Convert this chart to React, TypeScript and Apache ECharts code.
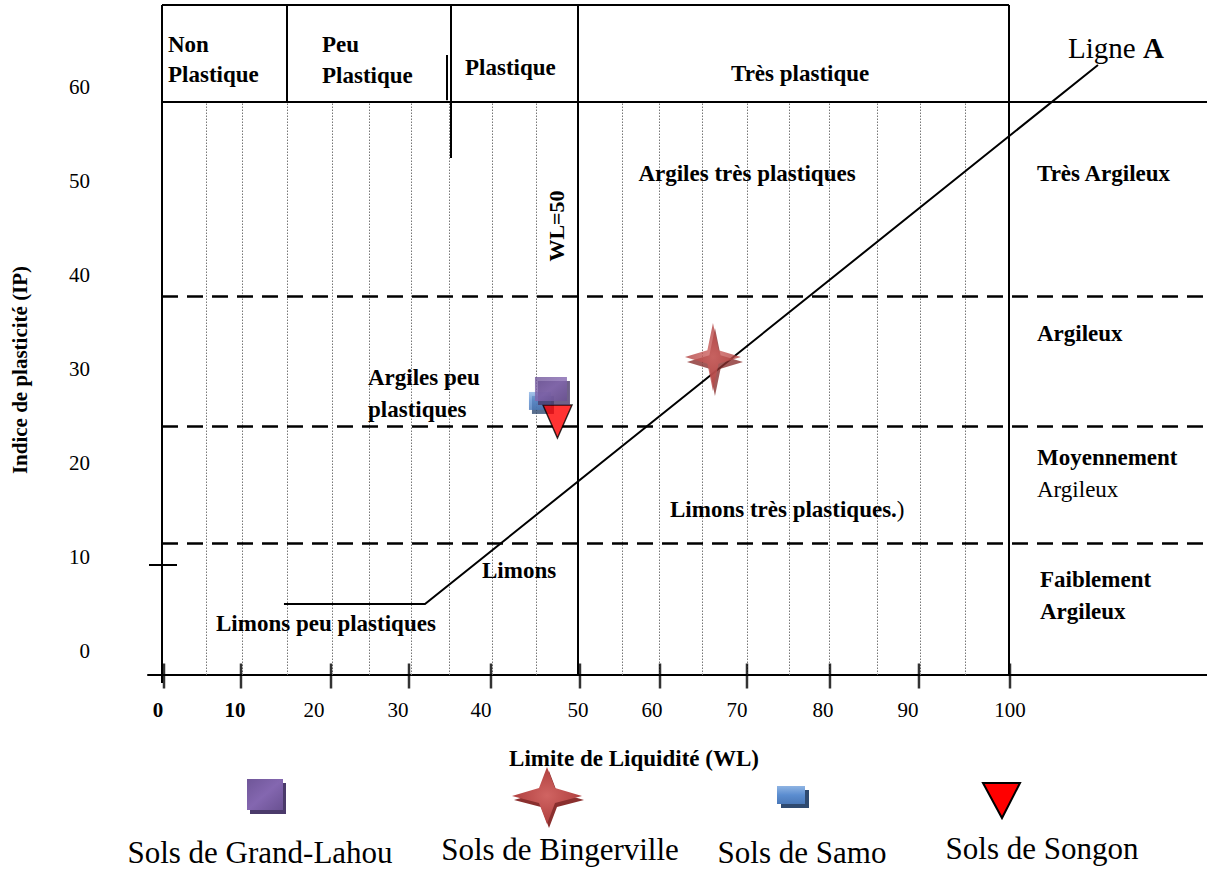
import React, { useEffect, useRef } from 'react';
import * as echarts from 'echarts';

// ---------- data (WL = liquid limit, IP = plasticity index) ----------
const X_MIN = -1.891;
const X_MAX = 123.286;
const Y_MIN = -2.553;
const Y_MAX = 68.72;

const xTickValues = [0, 9.1, 19.74, 28.96, 38.65, 49.17, 58.63, 68.91, 78.72, 89.24, 100];
const xLabelValues = [-0.71, 8.39, 17.73, 27.66, 37.47, 48.94, 57.68, 67.73, 77.9, 87.94, 100];
const xTickLabels = ['0', '10', '20', '30', '40', '50', '60', '70', '80', '90', '100'];
const yTickValues = [0, 10, 20, 30, 40, 50, 60];
const yTickLabels = ['0', '10', '20', '30', '40', '50', '60'];

const wlGuides = [4.96, 9.22, 14.54, 19.86, 24.23, 29.2, 33.69, 38.77, 43.97, 54.14, 58.51, 63.59, 68.91, 73.88, 78.61, 84.28, 89.36, 94.68];
const plotLeftWL = -0.236;
const headerTopIP = 68.72;
const headerBottomIP = 58.4;
const wl50 = 48.94;
const wl100 = 99.88;
const ipClassLimits = [37.77, 23.94, 11.49];
const ligneA = [[14.18, 5.0], [30.85, 5.0], [110.4, 62.34]];
const headerDividers = [[14.54, 58.4, 68.72], [33.92, 52.45, 68.72], [33.45, 58.6, 63.4]];

const grandLahou = [[45.74, 27.87]];
const samo = [[44.44, 26.6]];
const songon = [[46.51, 24.41]];
const bingerville = [[64.89, 31.28]];

const legendNames = ['Sols de Grand-Lahou', 'Sols de Bingerville', 'Sols de Samo', 'Sols de Songon'];

// ---------------------------------------------------------------------
const SERIF = '"Liberation Serif", "Times New Roman", serif';
const STAR = 'path://M50,0 L60,40 L100,50 L60,60 L50,100 L40,60 L0,50 L40,40 Z';

function seg(a: number[], b: number[]) {
  return { coords: [a, b] };
}

function txt(x: number, y: number, text: string, opts: any = {}) {
  return {
    type: 'text',
    x,
    y,
    z: 100,
    rotation: opts.rotation || 0,
    style: {
      text,
      fill: '#000',
      fontFamily: SERIF,
      fontSize: opts.size || 23,
      fontWeight: opts.weight || 'bold',
      align: opts.align || 'left',
      verticalAlign: 'middle',
      rich: opts.rich,
    },
  };
}

export default function App() {
  const ref = useRef<HTMLDivElement>(null);

  useEffect(() => {
    if (!ref.current) return;
    const chart = echarts.init(ref.current, undefined, { renderer: 'svg' });

    const dotted = wlGuides.map((w) => seg([w, Y_MIN], [w, headerBottomIP]));
    const solid = [
      seg([plotLeftWL, headerTopIP], [wl100, headerTopIP]),
      seg([plotLeftWL, headerBottomIP], [X_MAX, headerBottomIP]),
      seg([wl50, Y_MIN], [wl50, headerTopIP]),
      seg([wl100, Y_MIN], [wl100, headerTopIP]),
      seg([plotLeftWL, -3.4], [plotLeftWL, headerTopIP]),
      seg([-1.77, 9.15], [1.54, 9.15]),
      ...headerDividers.map((d) => seg([d[0], d[1]], [d[0], d[2]])),
    ];
    const dashed = ipClassLimits.map((ip) => seg([plotLeftWL, ip], [X_MAX, ip]));

    const labelFmt = (val: number) => {
      let idx = 0;
      let best = Infinity;
      xLabelValues.forEach((v, i) => {
        const d = Math.abs(v - val);
        if (d < best) { best = d; idx = i; }
      });
      return idx < 2 ? `{b|${xTickLabels[idx]}}` : xTickLabels[idx];
    };
    const yFmt = (val: number) => {
      const i = yTickValues.indexOf(Math.round(val));
      return i >= 0 ? yTickLabels[i] : '';
    };

    const purpleFill = new echarts.graphic.LinearGradient(0, 0, 1, 1, [
      { offset: 0, color: '#6f5698' }, { offset: 0.5, color: '#8467b0' }, { offset: 1, color: '#6a5192' },
    ]);
    const blueFill = new echarts.graphic.LinearGradient(0, 0, 0, 1, [
      { offset: 0, color: '#8fb4e3' }, { offset: 0.5, color: '#5b8dd0' }, { offset: 1, color: '#4a78b8' },
    ]);
    const starFill = new echarts.graphic.RadialGradient(0.5, 0.5, 0.5, [
      { offset: 0, color: '#d06462' }, { offset: 1, color: '#b0403f' },
    ]);

    const option: any = {
      animation: false,
      backgroundColor: '#fff',
      grid: { left: 148, top: 5, width: 1059, height: 670, containLabel: false },
      xAxis: {
        type: 'value', min: X_MIN, max: X_MAX, position: 'bottom',
        axisLine: { show: true, onZero: false, lineStyle: { color: '#000', width: 2 } },
        axisTick: { show: false },
        axisLabel: {
          show: true, customValues: xLabelValues, formatter: labelFmt, margin: 24,
          color: '#000', fontFamily: SERIF, fontSize: 21,
          rich: { b: { fontWeight: 'bold', fontFamily: SERIF, fontSize: 21, color: '#000' } },
        },
        splitLine: { show: false },
      },
      yAxis: {
        type: 'value', min: Y_MIN, max: Y_MAX,
        axisLine: { show: false },
        axisTick: { show: false },
        axisLabel: { show: true, customValues: yTickValues, formatter: yFmt, margin: 58, color: '#000', fontFamily: SERIF, fontSize: 21 },
        splitLine: { show: false },
      },
      series: [
        { type: 'lines', coordinateSystem: 'cartesian2d', clip: false, silent: true, z: 1,
          lineStyle: { color: '#777', width: 1, type: [1.5, 1.5], opacity: 1 }, data: dotted },
        { type: 'lines', coordinateSystem: 'cartesian2d', clip: false, silent: true, z: 2,
          lineStyle: { color: '#000', width: 2.5, type: [16, 9], opacity: 1 }, data: dashed },
        { type: 'lines', coordinateSystem: 'cartesian2d', clip: false, silent: true, z: 3,
          lineStyle: { color: '#000', width: 2, opacity: 1 }, data: solid },
        { type: 'lines', coordinateSystem: 'cartesian2d', clip: false, silent: true, z: 3, polyline: true,
          lineStyle: { color: '#000', width: 2, opacity: 1 }, data: [{ coords: ligneA }] },
        // x-axis tick marks crossing the axis line
        { type: 'scatter', name: 'ticks', clip: false, silent: true, z: 4,
          data: xTickValues.map((v) => [v, Y_MIN]), symbol: 'rect', symbolSize: [2.5, 25], symbolOffset: [0, 1],
          itemStyle: { color: '#000' } },
        // Samo
        { type: 'scatter', name: legendNames[2] + ' ombre', data: samo, symbol: 'rect', symbolSize: [22, 18], symbolOffset: [3, 4], z: 5,
          itemStyle: { color: '#2f4a70' }, silent: true },
        { type: 'scatter', name: legendNames[2], data: samo, symbol: 'rect', symbolSize: [22, 18], z: 5,
          itemStyle: { color: blueFill }, silent: true },
        // Songon
        { type: 'scatter', name: legendNames[3], data: songon, symbol: 'triangle', symbolRotate: 180, symbolSize: [29, 33], z: 6,
          itemStyle: { color: '#ff0000', borderColor: '#000', borderWidth: 1.5 }, silent: true },
        // Grand-Lahou
        { type: 'scatter', name: legendNames[0] + ' ombre', data: grandLahou, symbol: 'rect', symbolSize: [32, 24], symbolOffset: [3, 4], z: 7,
          itemStyle: { color: '#4b3a6b' }, silent: true },
        { type: 'scatter', name: legendNames[0], data: grandLahou, symbol: 'rect', symbolSize: [32, 24], z: 7,
          itemStyle: { color: purpleFill }, silent: true },
        // Bingerville
        { type: 'scatter', name: legendNames[1] + ' ombre', data: bingerville, symbol: STAR, symbolSize: [56, 68], symbolOffset: [2, 5], z: 7,
          itemStyle: { color: '#8a2f2e' }, silent: true },
        { type: 'scatter', name: legendNames[1], data: bingerville, symbol: STAR, symbolSize: [56, 68], z: 7,
          itemStyle: { color: starFill }, silent: true },
      ],
      graphic: [
        // header
        txt(168, 44, 'Non'),
        txt(168, 74, 'Plastique'),
        txt(322, 44, 'Peu'),
        txt(322, 75, 'Plastique'),
        txt(465, 67, 'Plastique'),
        txt(731, 73, 'Très plastique'),
        { type: 'text', x: 1068, y: 48, z: 100, style: { text: 'Ligne {b|A}', fill: '#000', fontFamily: SERIF, fontSize: 29, verticalAlign: 'middle',
          rich: { b: { fontWeight: 'bold', fontSize: 29, fontFamily: SERIF, fill: '#000' } } } },
        // zones
        txt(747, 173, 'Argiles très plastiques', { align: 'center' }),
        txt(1037, 173, 'Très Argileux'),
        txt(556, 226, 'WL=50', { align: 'center', rotation: Math.PI / 2, size: 22 }),
        txt(1037, 333, 'Argileux'),
        txt(368, 377, 'Argiles peu'),
        txt(368, 409, 'plastiques'),
        txt(1037, 457, 'Moyennement'),
        txt(1037, 489, 'Argileux', { weight: 'normal' }),
        { type: 'text', x: 670, y: 509, z: 100, style: { text: 'Limons très plastiques.{n|)}', fill: '#000', fontFamily: SERIF, fontSize: 23, fontWeight: 'bold', verticalAlign: 'middle',
          rich: { n: { fontWeight: 'normal', fontSize: 23, fontFamily: SERIF, fill: '#000' } } } },
        txt(482, 570, 'Limons'),
        txt(1040, 579, 'Faiblement'),
        txt(1040, 611, 'Argileux'),
        txt(216, 623, 'Limons peu plastiques'),
        // axis titles
        txt(634, 758, 'Limite de Liquidité (WL)', { align: 'center' }),
        txt(20, 370, 'Indice de plasticité (IP)', { align: 'center', rotation: Math.PI / 2, size: 21 }),
        // legend icons
        { type: 'rect', z: 100, shape: { x: 250, y: 783, width: 36, height: 31 }, style: { fill: '#4b3a6b' } },
        { type: 'rect', z: 101, shape: { x: 247, y: 779, width: 36, height: 31 }, style: { fill: purpleFill } },
        { type: 'polygon', z: 100, x: 549, y: 800, shape: { points: [[0, -29], [8, -8], [35, 0], [8, 7], [0, 28], [-8, 7], [-35, 0], [-8, -8]] }, style: { fill: '#8a2f2e' } },
        { type: 'polygon', z: 101, x: 547, y: 796, shape: { points: [[0, -29], [8, -8], [35, 0], [8, 7], [0, 28], [-8, 7], [-35, 0], [-8, -8]] }, style: { fill: starFill } },
        { type: 'rect', z: 100, shape: { x: 781, y: 790, width: 28, height: 18 }, style: { fill: '#2f4a70' } },
        { type: 'rect', z: 101, shape: { x: 777, y: 786, width: 28, height: 18 }, style: { fill: blueFill } },
        { type: 'polygon', z: 101, shape: { points: [[983, 783], [1020, 783], [1002, 818]] }, style: { fill: '#ff0000', stroke: '#000', lineWidth: 2 } },
        // legend texts
        txt(260, 852, legendNames[0], { align: 'center', weight: 'normal', size: 31 }),
        txt(560, 849, legendNames[1], { align: 'center', weight: 'normal', size: 31 }),
        txt(802, 852, legendNames[2], { align: 'center', weight: 'normal', size: 31 }),
        txt(1042, 848, legendNames[3], { align: 'center', weight: 'normal', size: 31 }),
      ],
    };

    chart.setOption(option);
    return () => chart.dispose();
  }, []);

  return (
    <div
      ref={ref}
      style={{ position: 'absolute', left: 0, top: 0, width: 1207, height: 869, background: '#fff' }}
    />
  );
}
